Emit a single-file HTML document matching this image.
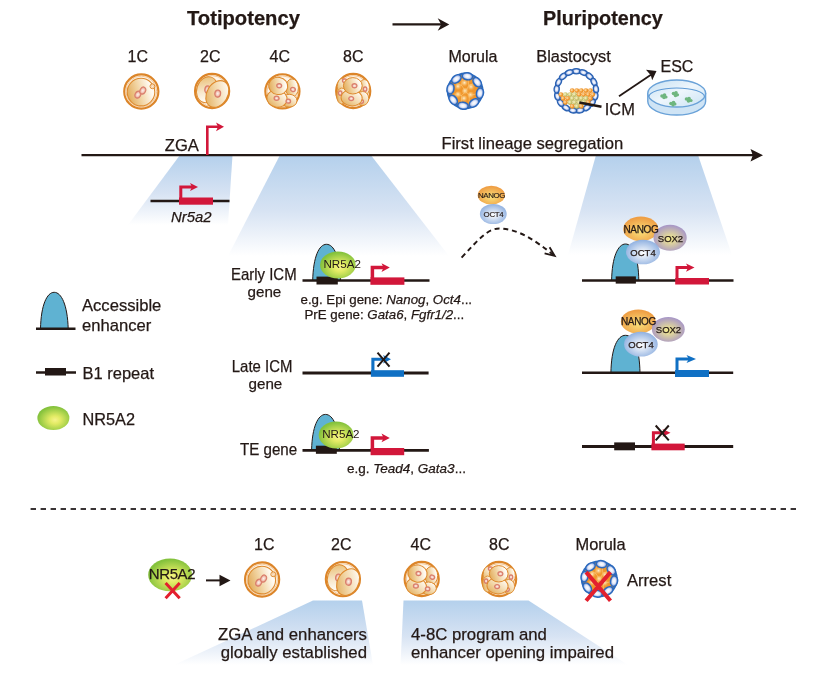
<!DOCTYPE html>
<html><head><meta charset="utf-8">
<style>
html,body{margin:0;padding:0;background:#fff;}
body{width:831px;height:684px;overflow:hidden;}
svg{display:block;will-change:transform;}
text{font-family:"Liberation Sans",sans-serif;fill:#231815;stroke:#231815;stroke-width:0.25px;}
text.thin{stroke-width:0;}
</style></head>
<body>
<svg width="831" height="684" viewBox="0 0 831 684">
<defs>
  <linearGradient id="trap" x1="0" y1="0" x2="0" y2="1">
    <stop offset="0" stop-color="#b4d0ec"/>
    <stop offset="0.55" stop-color="#d7e3f3"/>
    <stop offset="1" stop-color="#ffffff"/>
  </linearGradient>
  <radialGradient id="green" cx="0.55" cy="0.58" r="0.55">
    <stop offset="0" stop-color="#f6f38a"/>
    <stop offset="0.3" stop-color="#e2eb64"/>
    <stop offset="1" stop-color="#84c23c"/>
  </radialGradient>
  <radialGradient id="nanog" cx="0.5" cy="0.6" r="0.55">
    <stop offset="0" stop-color="#f9e07a"/>
    <stop offset="1" stop-color="#ef9f45"/>
  </radialGradient>
  <radialGradient id="oct4" cx="0.5" cy="0.55" r="0.55">
    <stop offset="0" stop-color="#ffffff"/>
    <stop offset="1" stop-color="#8fb0e0"/>
  </radialGradient>
  <radialGradient id="sox2" cx="0.5" cy="0.55" r="0.55">
    <stop offset="0" stop-color="#f7ef8a"/>
    <stop offset="1" stop-color="#a594c8"/>
  </radialGradient>

  <linearGradient id="cellg" x1="0" y1="0.6" x2="1" y2="0.3">
    <stop offset="0" stop-color="#e2ab5a"/>
    <stop offset="0.4" stop-color="#f1d3a0"/>
    <stop offset="0.85" stop-color="#fffaf2"/>
  </linearGradient>
  <linearGradient id="cellg2" x1="0.1" y1="1" x2="0.9" y2="0">
    <stop offset="0" stop-color="#e1a954"/>
    <stop offset="0.45" stop-color="#f2d6a6"/>
    <stop offset="0.9" stop-color="#fffaf3"/>
  </linearGradient>
  <radialGradient id="pn" cx="0.5" cy="0.5" r="0.5">
    <stop offset="0" stop-color="#fdf3ee"/>
    <stop offset="0.55" stop-color="#f3c9bb"/>
    <stop offset="1" stop-color="#e39080"/>
  </radialGradient>
  <radialGradient id="bluecell" cx="0.5" cy="0.5" r="0.5">
    <stop offset="0" stop-color="#ffffff"/>
    <stop offset="0.6" stop-color="#dfe6f7"/>
    <stop offset="1" stop-color="#8aa4dc"/>
  </radialGradient>
  <radialGradient id="orangec" cx="0.5" cy="0.5" r="0.5">
    <stop offset="0" stop-color="#fde0a8"/>
    <stop offset="0.4" stop-color="#f5a640"/>
    <stop offset="1" stop-color="#ec8f1d"/>
  </radialGradient>
  <linearGradient id="dishg" x1="0" y1="0" x2="1" y2="1">
    <stop offset="0" stop-color="#c4dff2"/>
    <stop offset="0.5" stop-color="#eef6fc"/>
    <stop offset="1" stop-color="#c9e2f4"/>
  </linearGradient>
  <radialGradient id="ohl" cx="0.4" cy="0.4" r="0.6">
    <stop offset="0" stop-color="#fff1d2"/>
    <stop offset="0.5" stop-color="#f8c374" stop-opacity="0.6"/>
    <stop offset="1" stop-color="#f29a2e" stop-opacity="0"/>
  </radialGradient>
  <radialGradient id="bluecell2" cx="0.5" cy="0.5" r="0.5">
    <stop offset="0" stop-color="#ffffff"/>
    <stop offset="0.5" stop-color="#e3e9f8"/>
    <stop offset="1" stop-color="#6f8fd6"/>
  </radialGradient>
  <radialGradient id="ballo" cx="0.4" cy="0.4" r="0.6">
    <stop offset="0" stop-color="#fde3b5"/>
    <stop offset="0.6" stop-color="#f29a32"/>
    <stop offset="1" stop-color="#e58a1f"/>
  </radialGradient>
  <radialGradient id="bally" cx="0.4" cy="0.4" r="0.6">
    <stop offset="0" stop-color="#fbf6cf"/>
    <stop offset="0.6" stop-color="#cfc874"/>
    <stop offset="1" stop-color="#b3ae55"/>
  </radialGradient>
  <linearGradient id="cellg3" x1="0.2" y1="0" x2="0.6" y2="1">
    <stop offset="0" stop-color="#e9bd72"/>
    <stop offset="0.6" stop-color="#f8e8cc"/>
    <stop offset="1" stop-color="#fffdf9"/>
  </linearGradient>
  <radialGradient id="ohl" cx="0.4" cy="0.4" r="0.6">
    <stop offset="0" stop-color="#fff1d2"/>
    <stop offset="0.5" stop-color="#f8c374" stop-opacity="0.6"/>
    <stop offset="1" stop-color="#f29a2e" stop-opacity="0"/>
  </radialGradient>
  <radialGradient id="bluecell2" cx="0.5" cy="0.5" r="0.5">
    <stop offset="0" stop-color="#ffffff"/>
    <stop offset="0.5" stop-color="#e3e9f8"/>
    <stop offset="1" stop-color="#6f8fd6"/>
  </radialGradient>
  <radialGradient id="ballo" cx="0.4" cy="0.4" r="0.6">
    <stop offset="0" stop-color="#fde3b5"/>
    <stop offset="0.6" stop-color="#f29a32"/>
    <stop offset="1" stop-color="#e58a1f"/>
  </radialGradient>
  <radialGradient id="bally" cx="0.4" cy="0.4" r="0.6">
    <stop offset="0" stop-color="#fbf6cf"/>
    <stop offset="0.6" stop-color="#cfc874"/>
    <stop offset="1" stop-color="#b3ae55"/>
  </radialGradient>
  <radialGradient id="bluecell3" cx="0.5" cy="0.5" r="0.5">
    <stop offset="0" stop-color="#ffffff"/>
    <stop offset="0.45" stop-color="#dfe6f7"/>
    <stop offset="1" stop-color="#4f77c8"/>
  </radialGradient>
  <linearGradient id="cellg3" x1="0.2" y1="0" x2="0.6" y2="1">
    <stop offset="0" stop-color="#e9bd72"/>
    <stop offset="0.6" stop-color="#f8e8cc"/>
    <stop offset="1" stop-color="#fffdf9"/>
  </linearGradient>
  <radialGradient id="ohl" cx="0.4" cy="0.4" r="0.6">
    <stop offset="0" stop-color="#fff1d2"/>
    <stop offset="0.5" stop-color="#f8c374" stop-opacity="0.6"/>
    <stop offset="1" stop-color="#f29a2e" stop-opacity="0"/>
  </radialGradient>
  <radialGradient id="bluecell2" cx="0.5" cy="0.5" r="0.5">
    <stop offset="0" stop-color="#ffffff"/>
    <stop offset="0.5" stop-color="#e3e9f8"/>
    <stop offset="1" stop-color="#6f8fd6"/>
  </radialGradient>
  <radialGradient id="ballo" cx="0.4" cy="0.4" r="0.6">
    <stop offset="0" stop-color="#fde3b5"/>
    <stop offset="0.6" stop-color="#f29a32"/>
    <stop offset="1" stop-color="#e58a1f"/>
  </radialGradient>
  <radialGradient id="bally" cx="0.4" cy="0.4" r="0.6">
    <stop offset="0" stop-color="#fbf6cf"/>
    <stop offset="0.6" stop-color="#cfc874"/>
    <stop offset="1" stop-color="#b3ae55"/>
  </radialGradient>
  <radialGradient id="bluecell3" cx="0.5" cy="0.5" r="0.5">
    <stop offset="0" stop-color="#ffffff"/>
    <stop offset="0.45" stop-color="#dfe6f7"/>
    <stop offset="1" stop-color="#4f77c8"/>
  </radialGradient>
  <linearGradient id="cellg3" x1="0.2" y1="0" x2="0.6" y2="1">
    <stop offset="0" stop-color="#e9bd72"/>
    <stop offset="0.6" stop-color="#f8e8cc"/>
    <stop offset="1" stop-color="#fffdf9"/>
  </linearGradient>
  <radialGradient id="ohl" cx="0.4" cy="0.4" r="0.6">
    <stop offset="0" stop-color="#fff1d2"/>
    <stop offset="0.5" stop-color="#f8c374" stop-opacity="0.6"/>
    <stop offset="1" stop-color="#f29a2e" stop-opacity="0"/>
  </radialGradient>
  <radialGradient id="bluecell2" cx="0.5" cy="0.5" r="0.5">
    <stop offset="0" stop-color="#ffffff"/>
    <stop offset="0.5" stop-color="#e3e9f8"/>
    <stop offset="1" stop-color="#6f8fd6"/>
  </radialGradient>
  <radialGradient id="ballo" cx="0.4" cy="0.4" r="0.6">
    <stop offset="0" stop-color="#fde3b5"/>
    <stop offset="0.6" stop-color="#f29a32"/>
    <stop offset="1" stop-color="#e58a1f"/>
  </radialGradient>
  <radialGradient id="bally" cx="0.4" cy="0.4" r="0.6">
    <stop offset="0" stop-color="#fbf6cf"/>
    <stop offset="0.6" stop-color="#cfc874"/>
    <stop offset="1" stop-color="#b3ae55"/>
  </radialGradient>
  <radialGradient id="bluecell3" cx="0.5" cy="0.5" r="0.5">
    <stop offset="0" stop-color="#ffffff"/>
    <stop offset="0.45" stop-color="#dfe6f7"/>
    <stop offset="1" stop-color="#4f77c8"/>
  </radialGradient>
  <linearGradient id="cellg3" x1="0.2" y1="0" x2="0.6" y2="1">
    <stop offset="0" stop-color="#e9bd72"/>
    <stop offset="0.6" stop-color="#f8e8cc"/>
    <stop offset="1" stop-color="#fffdf9"/>
  </linearGradient>
  <radialGradient id="ohl" cx="0.4" cy="0.4" r="0.6">
    <stop offset="0" stop-color="#fff1d2"/>
    <stop offset="0.5" stop-color="#f8c374" stop-opacity="0.6"/>
    <stop offset="1" stop-color="#f29a2e" stop-opacity="0"/>
  </radialGradient>
  <radialGradient id="bluecell2" cx="0.5" cy="0.5" r="0.5">
    <stop offset="0" stop-color="#ffffff"/>
    <stop offset="0.5" stop-color="#e3e9f8"/>
    <stop offset="1" stop-color="#6f8fd6"/>
  </radialGradient>
  <radialGradient id="ballo" cx="0.4" cy="0.4" r="0.6">
    <stop offset="0" stop-color="#fde3b5"/>
    <stop offset="0.6" stop-color="#f29a32"/>
    <stop offset="1" stop-color="#e58a1f"/>
  </radialGradient>
  <radialGradient id="bally" cx="0.4" cy="0.4" r="0.6">
    <stop offset="0" stop-color="#fbf6cf"/>
    <stop offset="0.6" stop-color="#cfc874"/>
    <stop offset="1" stop-color="#b3ae55"/>
  </radialGradient>
  <radialGradient id="bluecell3" cx="0.5" cy="0.5" r="0.5">
    <stop offset="0" stop-color="#ffffff"/>
    <stop offset="0.35" stop-color="#d3ddf4"/>
    <stop offset="1" stop-color="#5a80cc"/>
  </radialGradient>
  <linearGradient id="cellg3" x1="0.2" y1="0" x2="0.6" y2="1">
    <stop offset="0" stop-color="#e9bd72"/>
    <stop offset="0.6" stop-color="#f8e8cc"/>
    <stop offset="1" stop-color="#fffdf9"/>
  </linearGradient>
  <radialGradient id="ohl" cx="0.4" cy="0.4" r="0.6">
    <stop offset="0" stop-color="#fff1d2"/>
    <stop offset="0.5" stop-color="#f8c374" stop-opacity="0.6"/>
    <stop offset="1" stop-color="#f29a2e" stop-opacity="0"/>
  </radialGradient>
  <radialGradient id="bluecell2" cx="0.5" cy="0.5" r="0.5">
    <stop offset="0" stop-color="#ffffff"/>
    <stop offset="0.5" stop-color="#e3e9f8"/>
    <stop offset="1" stop-color="#6f8fd6"/>
  </radialGradient>
  <radialGradient id="ballo" cx="0.4" cy="0.4" r="0.6">
    <stop offset="0" stop-color="#fee6bd"/>
    <stop offset="0.5" stop-color="#f4a33c"/>
    <stop offset="1" stop-color="#dd8418"/>
  </radialGradient>
  <radialGradient id="bally" cx="0.4" cy="0.4" r="0.6">
    <stop offset="0" stop-color="#fdf9dc"/>
    <stop offset="0.5" stop-color="#d6d07e"/>
    <stop offset="1" stop-color="#aaa44a"/>
  </radialGradient>
  <radialGradient id="bluecell3" cx="0.5" cy="0.5" r="0.5">
    <stop offset="0" stop-color="#ffffff"/>
    <stop offset="0.3" stop-color="#cfdaf3"/>
    <stop offset="0.75" stop-color="#7194d8"/>
    <stop offset="1" stop-color="#3a66bd"/>
  </radialGradient>
  <linearGradient id="cellg3" x1="0.2" y1="0" x2="0.6" y2="1">
    <stop offset="0" stop-color="#e9bd72"/>
    <stop offset="0.6" stop-color="#f8e8cc"/>
    <stop offset="1" stop-color="#fffdf9"/>
  </linearGradient>
  <radialGradient id="ohl" cx="0.4" cy="0.4" r="0.6">
    <stop offset="0" stop-color="#fff1d2"/>
    <stop offset="0.5" stop-color="#f8c374" stop-opacity="0.6"/>
    <stop offset="1" stop-color="#f29a2e" stop-opacity="0"/>
  </radialGradient>
  <radialGradient id="bluecell2" cx="0.5" cy="0.5" r="0.5">
    <stop offset="0" stop-color="#ffffff"/>
    <stop offset="0.5" stop-color="#e3e9f8"/>
    <stop offset="1" stop-color="#6f8fd6"/>
  </radialGradient>
  <radialGradient id="ballo" cx="0.4" cy="0.4" r="0.6">
    <stop offset="0" stop-color="#fee6bd"/>
    <stop offset="0.5" stop-color="#f4a33c"/>
    <stop offset="1" stop-color="#dd8418"/>
  </radialGradient>
  <radialGradient id="bally" cx="0.4" cy="0.4" r="0.6">
    <stop offset="0" stop-color="#fdf9dc"/>
    <stop offset="0.5" stop-color="#d6d07e"/>
    <stop offset="1" stop-color="#aaa44a"/>
  </radialGradient>
  <radialGradient id="bluecell3" cx="0.5" cy="0.5" r="0.5">
    <stop offset="0" stop-color="#ffffff"/>
    <stop offset="0.3" stop-color="#cfdaf3"/>
    <stop offset="0.75" stop-color="#7194d8"/>
    <stop offset="1" stop-color="#3a66bd"/>
  </radialGradient>
  <linearGradient id="cellg3" x1="0.2" y1="0" x2="0.6" y2="1">
    <stop offset="0" stop-color="#e9bd72"/>
    <stop offset="0.6" stop-color="#f8e8cc"/>
    <stop offset="1" stop-color="#fffdf9"/>
  </linearGradient>
  <radialGradient id="ohl" cx="0.4" cy="0.4" r="0.6">
    <stop offset="0" stop-color="#fff1d2"/>
    <stop offset="0.5" stop-color="#f8c374" stop-opacity="0.6"/>
    <stop offset="1" stop-color="#f29a2e" stop-opacity="0"/>
  </radialGradient>
  <radialGradient id="bluecell2" cx="0.5" cy="0.5" r="0.5">
    <stop offset="0" stop-color="#ffffff"/>
    <stop offset="0.35" stop-color="#dde5f7"/>
    <stop offset="0.8" stop-color="#8ea9e0"/>
    <stop offset="1" stop-color="#4f78c9"/>
  </radialGradient>
  <radialGradient id="ballo" cx="0.4" cy="0.4" r="0.6">
    <stop offset="0" stop-color="#fee6bd"/>
    <stop offset="0.5" stop-color="#f4a33c"/>
    <stop offset="1" stop-color="#dd8418"/>
  </radialGradient>
  <radialGradient id="bally" cx="0.4" cy="0.4" r="0.6">
    <stop offset="0" stop-color="#fdf9dc"/>
    <stop offset="0.5" stop-color="#d6d07e"/>
    <stop offset="1" stop-color="#aaa44a"/>
  </radialGradient>
  <radialGradient id="bluecell3" cx="0.5" cy="0.5" r="0.5">
    <stop offset="0" stop-color="#ffffff"/>
    <stop offset="0.3" stop-color="#cfdaf3"/>
    <stop offset="0.75" stop-color="#7194d8"/>
    <stop offset="1" stop-color="#3a66bd"/>
  </radialGradient>
  <linearGradient id="cellg3" x1="0.2" y1="0" x2="0.6" y2="1">
    <stop offset="0" stop-color="#e9bd72"/>
    <stop offset="0.6" stop-color="#f8e8cc"/>
    <stop offset="1" stop-color="#fffdf9"/>
  </linearGradient>
  <radialGradient id="ohl" cx="0.4" cy="0.4" r="0.6">
    <stop offset="0" stop-color="#fff1d2"/>
    <stop offset="0.5" stop-color="#f8c374" stop-opacity="0.6"/>
    <stop offset="1" stop-color="#f29a2e" stop-opacity="0"/>
  </radialGradient>
  <radialGradient id="bluecell2" cx="0.5" cy="0.5" r="0.5">
    <stop offset="0" stop-color="#ffffff"/>
    <stop offset="0.35" stop-color="#dde5f7"/>
    <stop offset="0.8" stop-color="#8ea9e0"/>
    <stop offset="1" stop-color="#4f78c9"/>
  </radialGradient>
  <radialGradient id="ballo" cx="0.4" cy="0.4" r="0.6">
    <stop offset="0" stop-color="#fee6bd"/>
    <stop offset="0.5" stop-color="#f4a33c"/>
    <stop offset="1" stop-color="#dd8418"/>
  </radialGradient>
  <radialGradient id="bally" cx="0.4" cy="0.4" r="0.6">
    <stop offset="0" stop-color="#fdf9dc"/>
    <stop offset="0.5" stop-color="#d6d07e"/>
    <stop offset="1" stop-color="#aaa44a"/>
  </radialGradient>
  <radialGradient id="bluecell3" cx="0.5" cy="0.5" r="0.5">
    <stop offset="0" stop-color="#ffffff"/>
    <stop offset="0.3" stop-color="#cfdaf3"/>
    <stop offset="0.75" stop-color="#7194d8"/>
    <stop offset="1" stop-color="#3a66bd"/>
  </radialGradient>
  <linearGradient id="cellg3" x1="0.2" y1="0" x2="0.6" y2="1">
    <stop offset="0" stop-color="#e9bd72"/>
    <stop offset="0.6" stop-color="#f8e8cc"/>
    <stop offset="1" stop-color="#fffdf9"/>
  </linearGradient>
  <radialGradient id="ohl" cx="0.4" cy="0.4" r="0.6">
    <stop offset="0" stop-color="#fff1d2"/>
    <stop offset="0.5" stop-color="#f8c374" stop-opacity="0.6"/>
    <stop offset="1" stop-color="#f29a2e" stop-opacity="0"/>
  </radialGradient>
  <radialGradient id="bluecell2" cx="0.5" cy="0.5" r="0.5">
    <stop offset="0" stop-color="#ffffff"/>
    <stop offset="0.35" stop-color="#dde5f7"/>
    <stop offset="0.8" stop-color="#8ea9e0"/>
    <stop offset="1" stop-color="#4f78c9"/>
  </radialGradient>
  <radialGradient id="ballo" cx="0.4" cy="0.4" r="0.6">
    <stop offset="0" stop-color="#fee6bd"/>
    <stop offset="0.5" stop-color="#f4a33c"/>
    <stop offset="1" stop-color="#dd8418"/>
  </radialGradient>
  <radialGradient id="bally" cx="0.4" cy="0.4" r="0.6">
    <stop offset="0" stop-color="#fdf9dc"/>
    <stop offset="0.5" stop-color="#d6d07e"/>
    <stop offset="1" stop-color="#aaa44a"/>
  </radialGradient>
  <radialGradient id="bluecell3" cx="0.5" cy="0.5" r="0.5">
    <stop offset="0" stop-color="#ffffff"/>
    <stop offset="0.3" stop-color="#cfdaf3"/>
    <stop offset="0.75" stop-color="#7194d8"/>
    <stop offset="1" stop-color="#3a66bd"/>
  </radialGradient>
  <linearGradient id="cellg3" x1="0.2" y1="0" x2="0.6" y2="1">
    <stop offset="0" stop-color="#e9bd72"/>
    <stop offset="0.6" stop-color="#f8e8cc"/>
    <stop offset="1" stop-color="#fffdf9"/>
  </linearGradient>
  <radialGradient id="ohl" cx="0.4" cy="0.4" r="0.6">
    <stop offset="0" stop-color="#fff1d2"/>
    <stop offset="0.5" stop-color="#f8c374" stop-opacity="0.6"/>
    <stop offset="1" stop-color="#f29a2e" stop-opacity="0"/>
  </radialGradient>
  <radialGradient id="bluecell2" cx="0.5" cy="0.5" r="0.5">
    <stop offset="0" stop-color="#ffffff"/>
    <stop offset="0.35" stop-color="#dde5f7"/>
    <stop offset="0.8" stop-color="#8ea9e0"/>
    <stop offset="1" stop-color="#4f78c9"/>
  </radialGradient>
  <radialGradient id="ballo" cx="0.4" cy="0.4" r="0.6">
    <stop offset="0" stop-color="#fee6bd"/>
    <stop offset="0.5" stop-color="#f4a33c"/>
    <stop offset="1" stop-color="#dd8418"/>
  </radialGradient>
  <radialGradient id="bally" cx="0.4" cy="0.4" r="0.6">
    <stop offset="0" stop-color="#fdf9dc"/>
    <stop offset="0.5" stop-color="#d6d07e"/>
    <stop offset="1" stop-color="#aaa44a"/>
  </radialGradient>
  <radialGradient id="bluecell3" cx="0.5" cy="0.5" r="0.5">
    <stop offset="0" stop-color="#ffffff"/>
    <stop offset="0.3" stop-color="#cfdaf3"/>
    <stop offset="0.75" stop-color="#7194d8"/>
    <stop offset="1" stop-color="#3a66bd"/>
  </radialGradient>
  <linearGradient id="cellg3" x1="0.2" y1="0" x2="0.6" y2="1">
    <stop offset="0" stop-color="#e9bd72"/>
    <stop offset="0.6" stop-color="#f8e8cc"/>
    <stop offset="1" stop-color="#fffdf9"/>
  </linearGradient>
  <g id="zona">
    <circle r="17.1" fill="#fef5ea" stroke="#dc8529" stroke-width="2.1"/>
    <circle r="15.4" fill="none" stroke="#eeb676" stroke-width="0.7"/>
  </g>
  <g id="e1c">
    <use href="#zona"/>
    <ellipse cx="-0.3" cy="0.6" rx="13.8" ry="13.8" transform="rotate(0 -0.3 0.6)" fill="url(#cellg)" stroke="#de8a2d" stroke-width="1.1"/>
    <circle cx="11.1" cy="-5.2" r="2.4" fill="#fdf1e2" stroke="#de8a2d" stroke-width="1"/>
    <circle cx="11.1" cy="-5.2" r="1.1" fill="none" stroke="#eeb676" stroke-width="0.6"/>
    <ellipse cx="-3.4" cy="3.1" rx="2.8" ry="3.7" transform="rotate(30 -3.4 3.1)" fill="url(#pn)" stroke="#da7f6c" stroke-width="1.2"/>
    <ellipse cx="1.5" cy="-0.9" rx="2.8" ry="3.7" transform="rotate(30 1.5 -0.9)" fill="url(#pn)" stroke="#da7f6c" stroke-width="1.2"/>
  </g>
  <g id="e2c">
    <use href="#zona"/>
    <ellipse cx="-5" cy="-1.3" rx="10.3" ry="13.2" transform="rotate(18 -5 -1.3)" fill="url(#cellg3)" stroke="#de8a2d" stroke-width="1"/>
    <ellipse cx="-4.6" cy="-1.5" rx="2.7" ry="3.6" transform="rotate(10 -4.6 -1.5)" fill="url(#pn)" stroke="#da7f6c" stroke-width="1.2"/>
    <ellipse cx="5.2" cy="3.0" rx="10.4" ry="14.2" transform="rotate(31 5.2 3.0)" fill="url(#cellg2)" stroke="#de8a2d" stroke-width="1.1"/>
    <ellipse cx="5.6" cy="2.6" rx="2.9" ry="3.6" transform="rotate(8 5.6 2.6)" fill="url(#pn)" stroke="#da7f6c" stroke-width="1.2"/>
  </g>
  <g id="e4c">
    <use href="#zona"/>
    <ellipse cx="9.6" cy="-3.4" rx="6.4" ry="9" transform="rotate(0 9.6 -3.4)" fill="url(#cellg)" stroke="#de8a2d" stroke-width="1"/>
    <ellipse cx="6.8" cy="9.4" rx="7.8" ry="6.4" transform="rotate(0 6.8 9.4)" fill="url(#cellg2)" stroke="#de8a2d" stroke-width="1"/>
    <ellipse cx="-5.4" cy="7.3" rx="10.2" ry="8.6" transform="rotate(10 -5.4 7.3)" fill="url(#cellg2)" stroke="#de8a2d" stroke-width="1"/>
    <ellipse cx="-4.2" cy="-5.4" rx="9.6" ry="8.6" transform="rotate(10 -4.2 -5.4)" fill="url(#cellg)" stroke="#de8a2d" stroke-width="1"/>
    <ellipse cx="-3.2" cy="-5.5" rx="2.5" ry="2.1" transform="rotate(0 -3.2 -5.5)" fill="url(#pn)" stroke="#da7f6c" stroke-width="1.2"/>
    <ellipse cx="10.5" cy="-1.8" rx="2.5" ry="2.1" transform="rotate(20 10.5 -1.8)" fill="url(#pn)" stroke="#da7f6c" stroke-width="1.2"/>
    <ellipse cx="-5.8" cy="7" rx="2.5" ry="2.1" transform="rotate(0 -5.8 7)" fill="url(#pn)" stroke="#da7f6c" stroke-width="1.2"/>
    <ellipse cx="5.9" cy="9.9" rx="2.3" ry="2.0" transform="rotate(0 5.9 9.9)" fill="url(#pn)" stroke="#da7f6c" stroke-width="1.2"/>
  </g>
  <g id="e8c">
    <use href="#zona"/>
    <ellipse cx="-11" cy="-4.5" rx="5" ry="8" transform="rotate(0 -11 -4.5)" fill="url(#cellg2)" stroke="#de8a2d" stroke-width="0.9"/>
    <ellipse cx="-11.5" cy="5" rx="5" ry="8" transform="rotate(0 -11.5 5)" fill="url(#cellg)" stroke="#de8a2d" stroke-width="0.9"/>
    <ellipse cx="11" cy="-3.5" rx="5.2" ry="8" transform="rotate(0 11 -3.5)" fill="url(#cellg)" stroke="#de8a2d" stroke-width="0.9"/>
    <ellipse cx="9.5" cy="7.5" rx="6" ry="7" transform="rotate(0 9.5 7.5)" fill="url(#cellg2)" stroke="#de8a2d" stroke-width="0.9"/>
    <ellipse cx="-8.6" cy="-10.3" rx="2.2" ry="1.8" transform="rotate(0 -8.6 -10.3)" fill="url(#pn)" stroke="#da7f6c" stroke-width="1.2"/>
    <ellipse cx="-13" cy="2.1" rx="1.8" ry="2.2" transform="rotate(0 -13 2.1)" fill="url(#pn)" stroke="#da7f6c" stroke-width="1.2"/>
    <ellipse cx="11.9" cy="-1.9" rx="1.8" ry="2.3" transform="rotate(0 11.9 -1.9)" fill="url(#pn)" stroke="#da7f6c" stroke-width="1.2"/>
    <ellipse cx="8.2" cy="10.5" rx="2.1" ry="1.8" transform="rotate(0 8.2 10.5)" fill="url(#pn)" stroke="#da7f6c" stroke-width="1.2"/>
    <ellipse cx="-1.6" cy="6.9" rx="10.6" ry="8" transform="rotate(5 -1.6 6.9)" fill="url(#cellg2)" stroke="#de8a2d" stroke-width="1"/>
    <ellipse cx="-0.4" cy="-5.2" rx="9.4" ry="8.2" transform="rotate(0 -0.4 -5.2)" fill="url(#cellg)" stroke="#de8a2d" stroke-width="1"/>
    <ellipse cx="1.3" cy="-5.2" rx="2.5" ry="2.1" transform="rotate(0 1.3 -5.2)" fill="url(#pn)" stroke="#da7f6c" stroke-width="1.2"/>
    <ellipse cx="-2" cy="7.6" rx="2.5" ry="2.1" transform="rotate(0 -2 7.6)" fill="url(#pn)" stroke="#da7f6c" stroke-width="1.2"/>
  </g>
  <g id="morula">
    <circle r="18.5" fill="#2b69bd"/>
    <polygon points="8.37,-13.87 10.06,-7.42 15.73,-3.89 12.36,1.87 13.87,8.37 7.42,10.06 3.89,15.73 -1.87,12.36 -8.37,13.87 -10.06,7.42 -15.73,3.89 -12.36,-1.87 -13.87,-8.37 -7.42,-10.06 -3.89,-15.73 1.87,-12.36" fill="#f0952a" stroke="#f0952a" stroke-width="1" stroke-linejoin="round"/>
    <circle r="13" fill="#f0952a"/>
    <circle cx="0" cy="-7.5" r="3.8" fill="url(#ohl)"/>
    <circle cx="6.5" cy="-3.5" r="3.8" fill="url(#ohl)"/>
    <circle cx="6" cy="4.5" r="3.8" fill="url(#ohl)"/>
    <circle cx="-0.5" cy="8" r="3.8" fill="url(#ohl)"/>
    <circle cx="-6.5" cy="4" r="3.8" fill="url(#ohl)"/>
    <circle cx="-6.5" cy="-4" r="3.8" fill="url(#ohl)"/>
    <circle cx="0.5" cy="0.5" r="3.8" fill="url(#ohl)"/>
    <g stroke="#fbd08a" stroke-width="0.6" fill="none" opacity="0.9"><path d="M0.5 0.5 L3.5 -5.5 L3 -12 M0.5 0.5 L-3.5 -5.5 L-3 -12 M3.5 -5.5 L10 -8 M0.5 0.5 L4 4.5 L11 3 M4 4.5 L4 12 M0.5 0.5 L-3.5 4.5 L-4 12 M-3.5 4.5 L-11 3 M-3.5 -5.5 L-10 -8"/></g>
    <ellipse cx="2.23" cy="-14.73" rx="5.3" ry="3.5" transform="rotate(8.6 2.23 -14.73)" fill="url(#bluecell2)" stroke="#2b69bd" stroke-width="1.5"/>
    <ellipse cx="11.99" cy="-8.84" rx="5.3" ry="3.5" transform="rotate(53.6 11.99 -8.84)" fill="url(#bluecell2)" stroke="#2b69bd" stroke-width="1.5"/>
    <ellipse cx="14.73" cy="2.23" rx="5.3" ry="3.5" transform="rotate(98.6 14.73 2.23)" fill="url(#bluecell2)" stroke="#2b69bd" stroke-width="1.5"/>
    <ellipse cx="8.84" cy="11.99" rx="5.3" ry="3.5" transform="rotate(143.6 8.84 11.99)" fill="url(#bluecell2)" stroke="#2b69bd" stroke-width="1.5"/>
    <ellipse cx="-2.23" cy="14.73" rx="5.3" ry="3.5" transform="rotate(188.6 -2.23 14.73)" fill="url(#bluecell2)" stroke="#2b69bd" stroke-width="1.5"/>
    <ellipse cx="-11.99" cy="8.84" rx="5.3" ry="3.5" transform="rotate(233.6 -11.99 8.84)" fill="url(#bluecell2)" stroke="#2b69bd" stroke-width="1.5"/>
    <ellipse cx="-14.73" cy="-2.23" rx="5.3" ry="3.5" transform="rotate(278.6 -14.73 -2.23)" fill="url(#bluecell2)" stroke="#2b69bd" stroke-width="1.5"/>
    <ellipse cx="-8.84" cy="-11.99" rx="5.3" ry="3.5" transform="rotate(323.6 -8.84 -11.99)" fill="url(#bluecell2)" stroke="#2b69bd" stroke-width="1.5"/>
  </g>
  <g id="blast">
    <ellipse cx="0.00" cy="-19.70" rx="4.1" ry="2.6" transform="rotate(0.0 0.00 -19.70)" fill="url(#bluecell3)" stroke="#2a62b3" stroke-width="1.3"/>
    <ellipse cx="7.12" cy="-18.37" rx="4.1" ry="2.6" transform="rotate(21.2 7.12 -18.37)" fill="url(#bluecell3)" stroke="#2a62b3" stroke-width="1.3"/>
    <ellipse cx="13.27" cy="-14.56" rx="4.1" ry="2.6" transform="rotate(42.4 13.27 -14.56)" fill="url(#bluecell3)" stroke="#2a62b3" stroke-width="1.3"/>
    <ellipse cx="17.63" cy="-8.78" rx="4.1" ry="2.6" transform="rotate(63.5 17.63 -8.78)" fill="url(#bluecell3)" stroke="#2a62b3" stroke-width="1.3"/>
    <ellipse cx="19.62" cy="-1.82" rx="4.1" ry="2.6" transform="rotate(84.7 19.62 -1.82)" fill="url(#bluecell3)" stroke="#2a62b3" stroke-width="1.3"/>
    <ellipse cx="18.95" cy="5.39" rx="4.1" ry="2.6" transform="rotate(105.9 18.95 5.39)" fill="url(#bluecell3)" stroke="#2a62b3" stroke-width="1.3"/>
    <ellipse cx="15.72" cy="11.87" rx="4.1" ry="2.6" transform="rotate(127.1 15.72 11.87)" fill="url(#bluecell3)" stroke="#2a62b3" stroke-width="1.3"/>
    <ellipse cx="10.37" cy="16.75" rx="4.1" ry="2.6" transform="rotate(148.2 10.37 16.75)" fill="url(#bluecell3)" stroke="#2a62b3" stroke-width="1.3"/>
    <ellipse cx="3.62" cy="19.36" rx="4.1" ry="2.6" transform="rotate(169.4 3.62 19.36)" fill="url(#bluecell3)" stroke="#2a62b3" stroke-width="1.3"/>
    <ellipse cx="-3.62" cy="19.36" rx="4.1" ry="2.6" transform="rotate(190.6 -3.62 19.36)" fill="url(#bluecell3)" stroke="#2a62b3" stroke-width="1.3"/>
    <ellipse cx="-10.37" cy="16.75" rx="4.1" ry="2.6" transform="rotate(211.8 -10.37 16.75)" fill="url(#bluecell3)" stroke="#2a62b3" stroke-width="1.3"/>
    <ellipse cx="-15.72" cy="11.87" rx="4.1" ry="2.6" transform="rotate(232.9 -15.72 11.87)" fill="url(#bluecell3)" stroke="#2a62b3" stroke-width="1.3"/>
    <ellipse cx="-18.95" cy="5.39" rx="4.1" ry="2.6" transform="rotate(254.1 -18.95 5.39)" fill="url(#bluecell3)" stroke="#2a62b3" stroke-width="1.3"/>
    <ellipse cx="-19.62" cy="-1.82" rx="4.1" ry="2.6" transform="rotate(275.3 -19.62 -1.82)" fill="url(#bluecell3)" stroke="#2a62b3" stroke-width="1.3"/>
    <ellipse cx="-17.63" cy="-8.78" rx="4.1" ry="2.6" transform="rotate(296.5 -17.63 -8.78)" fill="url(#bluecell3)" stroke="#2a62b3" stroke-width="1.3"/>
    <ellipse cx="-13.27" cy="-14.56" rx="4.1" ry="2.6" transform="rotate(317.6 -13.27 -14.56)" fill="url(#bluecell3)" stroke="#2a62b3" stroke-width="1.3"/>
    <ellipse cx="-7.12" cy="-18.37" rx="4.1" ry="2.6" transform="rotate(338.8 -7.12 -18.37)" fill="url(#bluecell3)" stroke="#2a62b3" stroke-width="1.3"/>
    <circle cx="-4.1" cy="-0.3" r="2.45" fill="url(#ballo)"/>
    <circle cx="0.5" cy="-0.3" r="2.45" fill="url(#ballo)"/>
    <circle cx="5.0" cy="-0.3" r="2.45" fill="url(#ballo)"/>
    <circle cx="9.6" cy="-0.3" r="2.45" fill="url(#ballo)"/>
    <circle cx="14.1" cy="-0.3" r="2.45" fill="url(#ballo)"/>
    <circle cx="-15.4" cy="3.7" r="2.45" fill="url(#ballo)"/>
    <circle cx="-10.9" cy="3.7" r="2.45" fill="url(#bally)"/>
    <circle cx="-6.3" cy="3.7" r="2.45" fill="url(#bally)"/>
    <circle cx="-1.8" cy="3.7" r="2.45" fill="url(#bally)"/>
    <circle cx="2.8" cy="3.7" r="2.45" fill="url(#ballo)"/>
    <circle cx="7.3" cy="3.7" r="2.45" fill="url(#ballo)"/>
    <circle cx="11.9" cy="3.7" r="2.45" fill="url(#ballo)"/>
    <circle cx="16.4" cy="3.7" r="2.45" fill="url(#ballo)"/>
    <circle cx="-13.2" cy="7.6" r="2.45" fill="url(#ballo)"/>
    <circle cx="-8.6" cy="7.6" r="2.45" fill="url(#ballo)"/>
    <circle cx="-4.1" cy="7.6" r="2.45" fill="url(#bally)"/>
    <circle cx="0.5" cy="7.6" r="2.45" fill="url(#bally)"/>
    <circle cx="5.0" cy="7.6" r="2.45" fill="url(#bally)"/>
    <circle cx="9.6" cy="7.6" r="2.45" fill="url(#bally)"/>
    <circle cx="14.1" cy="7.6" r="2.45" fill="url(#ballo)"/>
    <circle cx="-10.9" cy="11.6" r="2.45" fill="url(#ballo)"/>
    <circle cx="-6.3" cy="11.6" r="2.45" fill="url(#bally)"/>
    <circle cx="-1.8" cy="11.6" r="2.45" fill="url(#bally)"/>
    <circle cx="2.8" cy="11.6" r="2.45" fill="url(#bally)"/>
    <circle cx="7.3" cy="11.6" r="2.45" fill="url(#bally)"/>
    <circle cx="11.9" cy="11.6" r="2.45" fill="url(#ballo)"/>
    <circle cx="-4.1" cy="15.5" r="2.45" fill="url(#ballo)"/>
    <circle cx="0.5" cy="15.5" r="2.45" fill="url(#bally)"/>
    <circle cx="5.0" cy="15.5" r="2.45" fill="url(#ballo)"/>
  </g>
</defs>

<!-- titles -->
<text x="187" y="25" font-size="20.2" font-weight="bold">Totipotency</text>
<text x="543" y="25" font-size="19.8" font-weight="bold">Pluripotency</text>
<line x1="392.5" y1="24.4" x2="442" y2="24.4" stroke="#231815" stroke-width="2.4"/>
<path d="M437.7 18.2 L449.3 24.4 L437.7 30.7 L441.2 24.4 Z" fill="#231815"/>

<!-- stage labels -->
<g font-size="16">
<text x="127.5" y="62">1C</text>
<text x="200" y="62">2C</text>
<text x="269.5" y="62">4C</text>
<text x="343" y="62">8C</text>
<text x="448.5" y="62">Morula</text>
<text x="536.3" y="62" font-size="16.35">Blastocyst</text>
<text x="660.5" y="71.5">ESC</text>
<text x="604.8" y="114.5" font-size="16.4">ICM</text>
</g>

<!-- trapezoids -->
<path d="M180 155 L232.5 155 L228 225 L128 225 Z" fill="url(#trap)"/>
<path d="M280 155 L370.8 155 L449 256 L228 256 Z" fill="url(#trap)"/>
<path d="M596 155 L698 155 L732 255 L568 255 Z" fill="url(#trap)"/>

<!-- timeline -->
<line x1="81.5" y1="155.2" x2="753" y2="155.2" stroke="#231815" stroke-width="2.2"/>
<path d="M750.5 149 L763 155.3 L750.5 161.6 L752.8 155.3 Z" fill="#231815"/>
<text x="164.8" y="151" font-size="16.6">ZGA</text>
<text x="441.5" y="149" font-size="16.6">First lineage segregation</text>
<!-- ZGA red arrow -->
<path d="M207.3 155 L207.3 126.8 L218.5 126.8" fill="none" stroke="#d2173a" stroke-width="2.6"/>
<path d="M216.0 122.4 L224.0 126.8 L216.0 131.2 L218.0 126.8 Z" fill="#d2173a"/>

<!-- Nr5a2 gene -->
<line x1="150.5" y1="201" x2="229.5" y2="201" stroke="#231815" stroke-width="2.6"/>
<rect x="179" y="197.5" width="34" height="7.2" fill="#d2173a"/>
<path d="M180.8 198 L180.8 187 L192.5 187" fill="none" stroke="#d2173a" stroke-width="3"/>
<path d="M190.0 182.9 L198.0 187.0 L190.0 191.1 L192.0 187.0 Z" fill="#d2173a"/>
<text x="171" y="222" font-size="14.9" font-style="italic">Nr5a2</text>

<!-- legend -->
<path d="M40.5 328.7 C41 305 47 292.3 54.2 292.3 C61.4 292.3 67.5 305 68.2 328.7 Z" fill="#5fb2d2" stroke="#231815" stroke-width="1"/>
<line x1="36" y1="328.7" x2="75.5" y2="328.7" stroke="#231815" stroke-width="2.4"/>
<text x="82" y="310.5" font-size="16.6">Accessible</text>
<text x="82" y="330.5" font-size="16.6">enhancer</text>
<line x1="36" y1="372.5" x2="76" y2="372.5" stroke="#231815" stroke-width="2.4"/>
<rect x="45" y="368" width="21" height="7.5" fill="#231815"/>
<text x="82.5" y="378.5" font-size="16.5">B1 repeat</text>
<ellipse cx="53.4" cy="418" rx="16" ry="12" fill="url(#green)"/>
<text x="82.5" y="424.7" font-size="16.3">NR5A2</text>

<!-- Early ICM gene -->
<text x="231" y="279.6" font-size="16.1" textLength="65.6" lengthAdjust="spacingAndGlyphs">Early ICM</text>
<text x="247.5" y="296.5" font-size="15.2">gene</text>
<path d="M312.7 280.5 C313.2 257 319 244.3 326.5 244.3 C334 244.3 340 257 340.5 280.5 Z" fill="#5fb2d2" stroke="#231815" stroke-width="1"/>
<line x1="302.5" y1="280.5" x2="429.5" y2="280.5" stroke="#231815" stroke-width="2.6"/>
<rect x="316.5" y="276.6" width="21.3" height="7.9" fill="#231815"/>
<ellipse cx="337.9" cy="265" rx="17.8" ry="13.4" fill="url(#green)"/>
<text x="323.5" y="268" font-size="11.6" class="thin">NR5A2</text>
<rect x="370.4" y="277.4" width="34" height="7.4" fill="#d2173a"/>
<path d="M372.4 278 L372.4 267.6 L384 267.6" fill="none" stroke="#d2173a" stroke-width="3.5"/>
<path d="M381.5 263.3 L389.8 267.6 L381.5 271.9 L383.6 267.6 Z" fill="#d2173a"/>
<text x="300.5" y="303.8" font-size="13.3">e.g. Epi gene: <tspan font-style="italic">Nanog</tspan>, <tspan font-style="italic">Oct4</tspan>...</text>
<text x="304.5" y="318.7" font-size="13.3">PrE gene: <tspan font-style="italic">Gata6</tspan>, <tspan font-style="italic">Fgfr1/2</tspan>...</text>

<!-- Late ICM gene -->
<text x="231.8" y="371.9" font-size="16.1" textLength="60.6" lengthAdjust="spacingAndGlyphs">Late ICM</text>
<text x="248.5" y="388.7" font-size="15.2">gene</text>
<line x1="302.5" y1="373" x2="428.6" y2="373" stroke="#231815" stroke-width="2.8"/>
<rect x="370.9" y="370.2" width="33.1" height="6.6" fill="#1070c4"/>
<path d="M372.9 371 L372.9 359.2 L385.5 359.2" fill="none" stroke="#1070c4" stroke-width="3.1"/>
<path d="M383 355 L391 359.2 L383 363.4 L385 359.2 Z" fill="#1070c4"/>
<path d="M377.5 352.6 L389.5 366.6 M389.5 352.6 L377.5 366.6" stroke="#231815" stroke-width="2"/>

<!-- TE gene -->
<text x="240" y="455" font-size="16.1" textLength="57.2" lengthAdjust="spacingAndGlyphs">TE gene</text>
<path d="M311.6 449.8 C312.1 427 318 414.4 325.5 414.4 C333 414.4 339 427 339.5 449.8 Z" fill="#5fb2d2" stroke="#231815" stroke-width="1"/>
<line x1="302.5" y1="450.4" x2="428.9" y2="450.4" stroke="#231815" stroke-width="2.8"/>
<rect x="315.9" y="445.7" width="20.9" height="8.1" fill="#231815"/>
<ellipse cx="336.1" cy="435" rx="17.4" ry="13.4" fill="url(#green)"/>
<text x="322.2" y="438" font-size="11.6" class="thin">NR5A2</text>
<rect x="370.6" y="448" width="33.6" height="7.2" fill="#d2173a"/>
<path d="M372.4 449 L372.4 437.9 L384 437.9" fill="none" stroke="#d2173a" stroke-width="3.5"/>
<path d="M381.5 433.6 L389.8 437.9 L381.5 442.2 L383.6 437.9 Z" fill="#d2173a"/>
<text x="347" y="473.3" font-size="13.5">e.g. <tspan font-style="italic">Tead4</tspan>, <tspan font-style="italic">Gata3</tspan>...</text>

<!-- small NANOG / OCT4 and dashed arrow -->
<ellipse cx="491.3" cy="195.2" rx="13.6" ry="9.4" fill="url(#nanog)"/>
<ellipse cx="493.3" cy="214" rx="13.4" ry="10.1" fill="url(#oct4)"/>
<text x="491.5" y="198" font-size="7.9" text-anchor="middle" letter-spacing="-0.35" style="stroke-width:0.15px">NANOG</text>
<text x="493.5" y="216.9" font-size="7.9" text-anchor="middle" letter-spacing="-0.3" style="stroke-width:0.15px">OCT4</text>
<path d="M461.6 257.6 C478 240 488 228 500 228.5 C518 229 535 240 554.5 255.8" fill="none" stroke="#231815" stroke-width="2" stroke-dasharray="5 3.8"/>
<path d="M544.6 253.3 L554.7 255.9 L549.6 247.2" fill="none" stroke="#231815" stroke-width="1.8"/>

<!-- right row 1 -->
<path d="M611.6 280.5 C612 257 618 244 625.5 244 C633 244 638.5 257 638.8 280.5 Z" fill="#5fb2d2" stroke="#231815" stroke-width="1"/>
<line x1="582" y1="280.5" x2="733.5" y2="280.5" stroke="#231815" stroke-width="2.6"/>
<rect x="615.7" y="276.4" width="20.2" height="7.2" fill="#231815"/>
<ellipse cx="640.8" cy="228.9" rx="17.6" ry="12.3" fill="url(#nanog)"/>
<ellipse cx="670.1" cy="237.7" rx="16.6" ry="13" fill="url(#sox2)"/>
<ellipse cx="643" cy="252" rx="17" ry="12.3" fill="url(#oct4)"/>
<text x="641" y="232.5" font-size="10" text-anchor="middle" letter-spacing="-0.3">NANOG</text>
<text x="670.5" y="241.5" font-size="9.5" text-anchor="middle">SOX2</text>
<text x="643" y="255.8" font-size="9.5" text-anchor="middle">OCT4</text>
<rect x="675.2" y="278" width="33.8" height="6.5" fill="#d2173a"/>
<path d="M677 279 L677 267.6 L688.5 267.6" fill="none" stroke="#d2173a" stroke-width="3"/>
<path d="M686.0 263.4 L694.5 267.6 L686.0 271.8 L688.1 267.6 Z" fill="#d2173a"/>

<!-- right row 2 -->
<path d="M610.9 372.8 C611.3 348 617.5 335.3 625.5 335.3 C633.5 335.3 639.6 348 640 372.8 Z" fill="#5fb2d2" stroke="#231815" stroke-width="1"/>
<line x1="582" y1="372.8" x2="733.2" y2="372.8" stroke="#231815" stroke-width="2.6"/>
<ellipse cx="638.3" cy="321.5" rx="17.4" ry="12" fill="url(#nanog)"/>
<ellipse cx="668.3" cy="329.3" rx="16.4" ry="12.4" fill="url(#sox2)"/>
<ellipse cx="640.9" cy="344.2" rx="16.8" ry="12.4" fill="url(#oct4)"/>
<text x="638.5" y="325" font-size="10" text-anchor="middle" letter-spacing="-0.3">NANOG</text>
<text x="668.5" y="333" font-size="9.5" text-anchor="middle">SOX2</text>
<text x="641" y="348" font-size="9.5" text-anchor="middle">OCT4</text>
<rect x="675" y="370" width="34" height="7" fill="#1070c4"/>
<path d="M677 371 L677 359 L689.5 359" fill="none" stroke="#1070c4" stroke-width="3"/>
<path d="M686.5 355.1 L696.0 359.0 L686.5 362.9 L688.9 359.0 Z" fill="#1070c4"/>

<!-- right row 3 -->
<line x1="582" y1="446.5" x2="733.2" y2="446.5" stroke="#231815" stroke-width="2.8"/>
<rect x="614.2" y="442.4" width="20.8" height="7.9" fill="#231815"/>
<rect x="651.4" y="443.6" width="33.3" height="6.7" fill="#d2173a"/>
<path d="M653.4 444 L653.4 432.8 L665 432.8" fill="none" stroke="#d2173a" stroke-width="3"/>
<path d="M662.5 428.9 L670.5 432.8 L662.5 436.7 L664.4 432.8 Z" fill="#d2173a"/>
<path d="M655.7 425.5 L668.8 440.4 M668.8 425.5 L655.7 440.4" stroke="#231815" stroke-width="2"/>

<!-- separator -->
<line x1="30.6" y1="509" x2="796" y2="509" stroke="#3a3435" stroke-width="2.2" stroke-dasharray="5.4 4.6"/>

<!-- bottom section -->
<path d="M313 600.5 L362 600.5 L373 665 L174 665 Z" fill="url(#trap)"/>
<path d="M403.5 600.5 L528.5 600.5 L628 665 L400.5 665 Z" fill="url(#trap)"/>
<g font-size="16">
<text x="254" y="550.2">1C</text>
<text x="331" y="550.2">2C</text>
<text x="410.5" y="550.2">4C</text>
<text x="489" y="550.2">8C</text>
<text x="575.5" y="550" font-size="16.4">Morula</text>
<text x="627" y="586.4" font-size="16.6">Arrest</text>
</g>
<ellipse cx="170.1" cy="574.9" rx="21.9" ry="16.4" fill="url(#green)"/>
<text x="172" y="578.5" font-size="15" text-anchor="middle" letter-spacing="-0.4">NR5A2</text>
<path d="M165.6 582.9 L179.7 598.3 M179.7 582.9 L165.6 598.3" stroke="#e3202e" stroke-width="3"/>
<line x1="206" y1="580.4" x2="221" y2="580.4" stroke="#231815" stroke-width="2"/>
<path d="M219.5 574.7 L230.5 580.4 L219.5 586.2 Z" fill="#231815"/>
<g font-size="16.75">
<text x="367" y="639.6" text-anchor="end">ZGA and enhancers</text>
<text x="367" y="657.7" text-anchor="end">globally established</text>
<text x="411" y="639.6">4-8C program and</text>
<text x="411" y="657.7">enhancer opening impaired</text>
</g>


<!-- embryos top -->
<use href="#e1c" x="141.3" y="91.5"/>
<use href="#e2c" x="212.1" y="91"/>
<use href="#e4c" x="282.4" y="91.3"/>
<use href="#e8c" x="353.2" y="91"/>
<use href="#morula" x="465.2" y="91"/>
<use href="#blast" x="576.3" y="90.9"/>
<line x1="579.3" y1="102.5" x2="601.5" y2="106.8" stroke="#231815" stroke-width="2.6"/>
<line x1="619" y1="96.2" x2="651" y2="74.8" stroke="#231815" stroke-width="1.8"/>
<path d="M646 69.8 L656.5 71 L652.2 80.3 L650.8 75.2 Z" fill="#231815"/>
<!-- dish -->
<path d="M647.8 93.5 L647.8 101.5 A28.9 13.5 0 0 0 705.6 101.5 L705.6 93.5 Z" fill="#cfe4f5" stroke="#6aa2d8" stroke-width="1.4"/>
<ellipse cx="676.7" cy="93.5" rx="28.9" ry="13.5" fill="url(#dishg)" stroke="#6aa2d8" stroke-width="1.4"/>
<path d="M649 96.8 A27.7 8.8 0 0 1 704.4 96.8" fill="none" stroke="#5f9bd6" stroke-width="1.1"/>
<g fill="#62b072" opacity="0.9">
  <circle cx="662" cy="96" r="1.8"/><circle cx="664.5" cy="95" r="1.8"/><circle cx="664" cy="97.5" r="1.8"/><circle cx="666" cy="97" r="1.6"/>
  <circle cx="673.5" cy="93.5" r="1.8"/><circle cx="676" cy="92.8" r="1.8"/><circle cx="675.5" cy="95.5" r="1.8"/><circle cx="677.5" cy="94.8" r="1.6"/>
  <circle cx="686.5" cy="99" r="1.8"/><circle cx="689" cy="98.5" r="1.8"/><circle cx="688.5" cy="101" r="1.8"/><circle cx="691" cy="100.5" r="1.6"/>
  <circle cx="671" cy="103.5" r="1.8"/><circle cx="673.5" cy="102.5" r="1.8"/><circle cx="673" cy="105" r="1.6"/><circle cx="675" cy="104" r="1.5"/>
</g>
<!-- embryos bottom -->
<use href="#e1c" x="262.1" y="579.5"/>
<use href="#e2c" x="342.9" y="579.1"/>
<use href="#e4c" x="421.7" y="579"/>
<use href="#e8c" x="499.1" y="579"/>
<use href="#morula" x="599.3" y="578.9"/>
<path d="M586.1 572.1 L610.5 600.8 M610.5 572.1 L586.1 600.8" stroke="#e3202e" stroke-width="4"/>
</svg>
</body></html>
